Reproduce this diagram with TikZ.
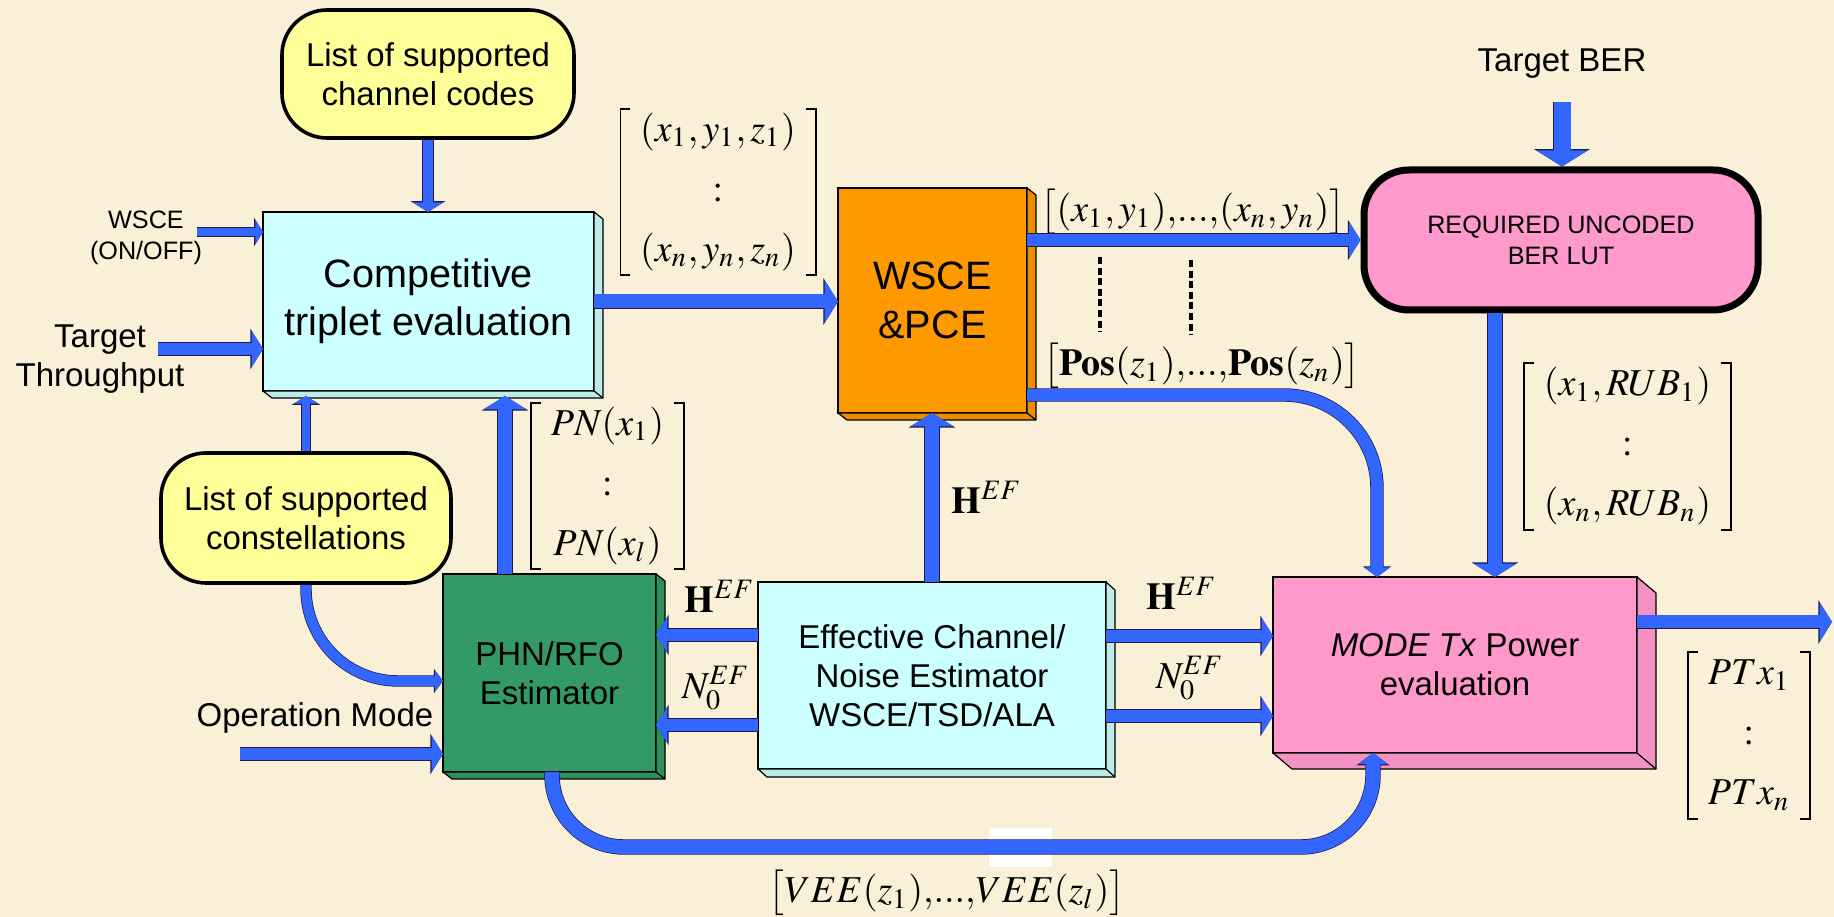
\documentclass[tikz,border=0pt]{standalone}
\usepackage{mathptmx}
\usepackage[no-math]{fontspec}
\setmainfont{Liberation Sans}
\usetikzlibrary{arrows.meta,calc}

\definecolor{paper}{HTML}{FAF0D7}
\definecolor{ablue}{HTML}{3366FF}
\definecolor{aline}{HTML}{1A1A4D}
\definecolor{cyanbox}{HTML}{CCFFFF}
\definecolor{orangebox}{HTML}{FF9900}
\definecolor{greenbox}{HTML}{339966}
\definecolor{pinkbox}{HTML}{FF99CC}
\definecolor{yellowbox}{HTML}{FFFF99}

% one drawing unit = 0.25pt
\newcommand\pxu{0.25pt}
\newcommand\fmain{\fontsize{8.25}{9.75}\selectfont}
\newcommand\fbig{\fontsize{9.9}{12.1}\selectfont}
\newcommand\fsmall{\fontsize{6.3}{7.75}\selectfont}
\newcommand\fmath{\fontsize{9.5}{11.4}\selectfont}
% tight ",...," separator used in the row vectors
\newcommand\ellsep{\mathord{,}\mathord{.}\mathord{.}\mathord{.}\mathord{,}}

% right and bottom faces of an extruded block
\newcommand\cubedepth[4]{%
  \filldraw[fill=#4, draw=black, line width=0.3pt, line join=round]
    (#1.north east) -- ++(#2,#3) -- ($(#1.south east)+(#2,#3)$)
    -- ($(#1.south west)+(#2,#3)$) -- (#1.south west) -- (#1.south east) -- cycle;
  \draw[line width=0.3pt] (#1.south east) -- ++(#2,#3);
}
% square brackets around a column vector
\newcommand\mbrackets[1]{%
  \draw[brk] ($(#1.north west)+(10,0)$) -- (#1.north west) -- (#1.south west) -- ($(#1.south west)+(10,0)$);
  \draw[brk] ($(#1.north east)+(-10,0)$) -- (#1.north east) -- (#1.south east) -- ($(#1.south east)+(-10,0)$);
}

\tikzset{
  sz/.style 2 args={minimum width=#1*\pxu, minimum height=#2*\pxu},
  cube/.style={draw=black, line width=0.3pt, inner sep=0pt, outer sep=0pt, align=center},
  roundbox/.style={draw=black, line width=0.9pt, rounded corners=11.25pt, inner sep=0pt, align=center, fill=yellowbox},
  lbl/.style={inner sep=0pt, align=center},
  mathlbl/.style={inner sep=0pt, font=\fmath},
  vec/.style={inner sep=0pt, outer sep=0pt, font=\fmath},
  ba/.style={draw=ablue, line width=#1*\pxu, -{Triangle[length=0pt 0.95, width=0pt 3]},
    preaction={draw=aline, line width=#1*\pxu+0.35pt}},
  bc/.style={draw=ablue, line width=#1*\pxu, -{Triangle[length=0pt 0.8, width=0pt 2.1]},
    preaction={draw=aline, line width=#1*\pxu+0.35pt}},
  brk/.style={draw=black, line width=0.33pt},
  dotline/.style={draw=black, line width=1pt, dash pattern=on 1.75pt off 0.9pt},
}

\begin{document}
\begin{tikzpicture}[x=0.25pt, y=-0.25pt]
\useasboundingbox (0,0) rectangle (1834,917);
\fill[paper] (0,0) rectangle (1834,917);
\fill[white] (989,828) rectangle (1052,867);

% ---- blocks ----
\node[roundbox, sz={292}{128}, font=\fmain] (codes) at (428,74) {List of supported\\channel codes};
\node[roundbox, sz={290}{130}, font=\fmain] (cons) at (306,518) {List of supported\\constellations};
\node[roundbox, fill=pinkbox, line width=1.75pt, sz={394}{140}, font=\fsmall] (rub) at (1561,240) {REQUIRED UNCODED\\BER LUT};

\node[cube, fill=cyanbox, sz={331}{179}, font=\fbig] (trip) at (428.5,301.5) {Competitive\\triplet evaluation};
\cubedepth{trip}{9}{7}{cyanbox!92!black}
\node[cube, fill=orangebox, sz={189}{225}, font=\fbig] (pce) at (932.5,300.5) {WSCE\\\&PCE};
\cubedepth{pce}{9}{7}{orangebox!92!black}
\node[cube, fill=greenbox, sz={213}{198}, font=\fmain] (phn) at (549.5,673) {PHN/RFO\\Estimator};
\cubedepth{phn}{9}{7}{greenbox!92!black}
\node[cube, fill=cyanbox, sz={348}{187}, font=\fmain] (ec) at (932,675.5) {Effective Channel/\\Noise Estimator\\WSCE/TSD/ALA};
\cubedepth{ec}{9}{8}{cyanbox!92!black}
\node[cube, fill=pinkbox, sz={364}{176}, font=\fmain] (mode) at (1455,665) {\textit{MODE Tx} Power\\evaluation};
\cubedepth{mode}{19}{16}{pinkbox!95!black}

% ---- plain labels ----
\node[lbl, font=\fsmall] (wscelbl) at (146,238) {WSCE\\(ON/OFF)};
\node[lbl, font=\fmain] (tplbl) at (100,359) {Target\\Throughput};
\node[lbl, font=\fmain, anchor=base] (oplbl) at (315,727) {Operation Mode};
\node[lbl, font=\fmain, anchor=base] (berlbl) at (1562,72) {Target BER};

% ---- math labels ----
\node[mathlbl] (hl) at (720,596) {$\mathbf{H}^{EF}$};
\node[mathlbl] (nl) at (716,688) {$N_0^{EF}$};
\node[mathlbl] (hu) at (987,497) {$\mathbf{H}^{EF}$};
\node[mathlbl] (hr) at (1182,593) {$\mathbf{H}^{EF}$};
\node[mathlbl] (nr) at (1190,678) {$N_0^{EF}$};
\node[mathlbl] (xylbl) at (1193,212) {$\bigl[(x_1,y_1)\ellsep(x_n,y_n)\bigr]$};
\node[mathlbl] (poslbl) at (1202,366) {$\bigl[\mathbf{Pos}(z_1)\ellsep\mathbf{Pos}(z_n)\bigr]$};
\node[mathlbl] (veelbl) at (947,893) {$\bigl[VEE(z_1)\ellsep VEE(z_l)\bigr]$};

\node[vec, sz={194}{166}] (xyzm) at (718,192)
  {$\begin{array}{c}(x_1,y_1,z_1)\\[3.6pt]:\\[3.6pt](x_n,y_n,z_n)\end{array}$};
\mbrackets{xyzm}
\node[vec, sz={149}{166}] (pnm) at (607.5,486)
  {$\begin{array}{c}PN(x_1)\\[3.6pt]:\\[3.6pt]PN(x_l)\end{array}$};
\mbrackets{pnm}
\node[vec, sz={205}{167}] (rubm) at (1627.5,446.5)
  {$\begin{array}{c}(x_1,RUB_1)\\[3.6pt]:\\[3.6pt](x_n,RUB_n)\end{array}$};
\mbrackets{rubm}
\node[vec, sz={114}{167}] (ptxm) at (1749,735.5)
  {$\begin{array}{c}PTx_1\\[3.6pt]:\\[3.6pt]PTx_n\end{array}$};
\mbrackets{ptxm}

% ---- dotted separators ----
\coordinate (d1a) at (1100,257); \coordinate (d1b) at (1100,332);
\coordinate (d2a) at (1191,260); \coordinate (d2b) at (1191,335);
\draw[dotline] (d1a) -- (d1b);
\draw[dotline] (d2a) -- (d2b);

% ---- connectors ----
\coordinate (wscein) at (197,232);
\coordinate (tpin) at (158,349);
\coordinate (opin) at (240,754);
\coordinate (berin) at (1562,102);
\coordinate (pout) at (1832,622);

\draw[ba=10] (codes.south) -- (codes.south |- trip.north);
\draw[ba=8] (wscein) -- (wscein -| trip.west);
\draw[ba=12] (tpin) -- (tpin -| trip.west);
\draw[ba=8] (cons.north) -- ($(cons.north |- trip.south)+(0,5)$);
\draw[ba=14] (phn.north -| 505,0) -- ($(trip.south -| 505,0)+(0,5)$);
\draw[ba=14] (trip.east) -- (trip.east -| pce.west);
\draw[ba=12] (pce.east |- rub.west) -- (rub.west);
\draw[bc=12, rounded corners=23.25pt] (pce.east |- 0,395) -| (mode.north -| 1377,0);
\draw[ba=17] (berin) -- (berin |- rub.north);
\draw[ba=14] (rub.south -| 1495,0) -- (mode.north -| 1495,0);
\draw[ba=14] (ec.north) -- (ec.north |- pce.south);
\draw[ba=12] (ec.west |- 0,635) -- (phn.east |- 0,635);
\draw[ba=12] (ec.west |- 0,725) -- (phn.east |- 0,725);
\draw[ba=12] (ec.east |- 0,636) -- (mode.west |- 0,636);
\draw[ba=12] (ec.east |- 0,716) -- (mode.west |- 0,716);
\draw[bc=10, rounded corners=23pt] (cons.south) |- (phn.west |- 0,681);
\draw[ba=12] (opin) -- (opin -| phn.west);
\draw[bc=14, rounded corners=18pt] (phn.south -| 552,0) |- (1373,847) -- (mode.south -| 1373,0);
\draw[ba=13] (mode.east |- pout) -- (pout);
\end{tikzpicture}
\end{document}
